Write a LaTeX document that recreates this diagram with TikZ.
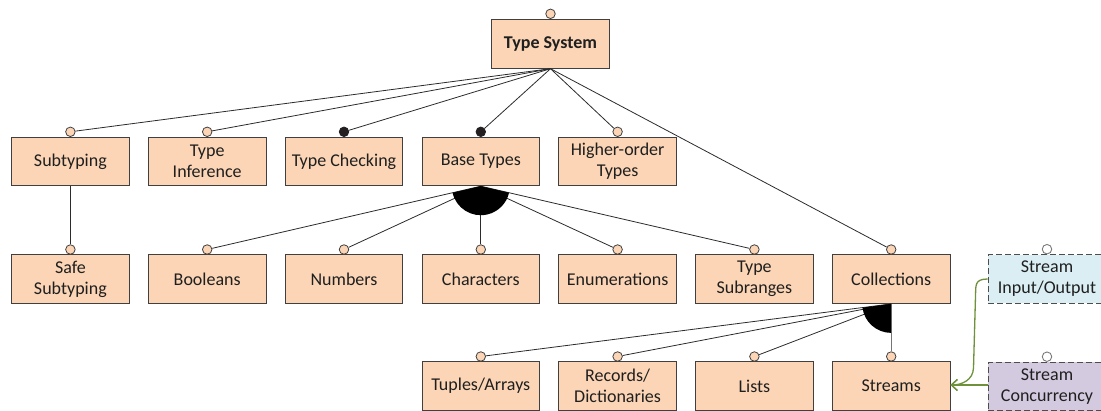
\documentclass[tikz,border=0pt]{standalone}
\usepackage{fontspec}
\setmainfont{Carlito}
\usetikzlibrary{arrows.meta,calc}

\definecolor{feat}{HTML}{FBD5B5}
\definecolor{featline}{HTML}{404040}
\definecolor{ink}{HTML}{1F1F1F}
\definecolor{edge}{HTML}{2B2B2B}
\definecolor{iofill}{HTML}{DAEEF3}
\definecolor{concfill}{HTML}{D3CAE0}
\definecolor{dashline}{HTML}{4D4D4D}
\definecolor{reqgreen}{HTML}{6F913C}
\definecolor{solid}{HTML}{231F20}

\tikzset{
  feature/.style={draw=featline, fill=feat, line width=0.9pt,
    minimum width=117.5pt, minimum height=48.5pt, inner sep=0pt,
    align=center, text=ink, font=\fontsize{18}{21}\selectfont},
  extfeature/.style={feature, draw=dashline, line width=1.1pt,
    dash pattern=on 6pt off 3pt},
  optional/.style={circle, draw=featline, fill=feat, line width=0.8pt,
    minimum size=9.5pt, inner sep=0pt},
  mandatory/.style={circle, draw=solid, fill=solid, line width=0.8pt,
    minimum size=9.5pt, inner sep=0pt},
  extmark/.style={circle, draw=dashline!75, fill=white, line width=0.9pt,
    minimum size=9.5pt, inner sep=0pt},
  link/.style={draw=edge, line width=0.8pt},
  requires/.style={draw=reqgreen, line width=1.3pt,
    -{Straight Barb[length=6pt,width=11pt]}},
}

\begin{document}
\begin{tikzpicture}[x=1pt,y=1pt]
\useasboundingbox (0,0) rectangle (1101,-411);

% root
\node[feature, font=\fontsize{18}{21}\selectfont\bfseries] (ts) at (550.5,-44) {Type System};
\node[optional] (c-ts) at ($(ts.north)+(0,5.5)$) {};

% first level
\node[feature] (sub)  at (70.4,-161.5)  {Subtyping};
\node[feature] (inf)  at (207.2,-161.5) {Type\\Inference};
\node[feature] (chk)  at (344,-161.5)   {Type Checking};
\node[feature] (base) at (480.8,-161.5) {Base Types};
\node[feature] (hot)  at (617.6,-161.5) {Higher-order\\Types};

% second level
\node[feature] (safe) at (70.4,-279.2)  {Safe\\Subtyping};
\node[feature] (bool) at (207.2,-279.2) {Booleans};
\node[feature] (num)  at (344,-279.2)   {Numbers};
\node[feature] (chr)  at (480.8,-279.2) {Characters};
\node[feature] (enm)  at (617.6,-279.2) {Enumerations};
\node[feature] (rng)  at (754.4,-279.2) {Type\\Subranges};
\node[feature] (col)  at (891.2,-279.2) {Collections};

% third level
\node[feature] (tup) at (480.8,-386.2) {Tuples/Arrays};
\node[feature] (rec) at (617.6,-386.2) {Records/\\Dictionaries};
\node[feature] (lst) at (754.4,-386.2) {Lists};
\node[feature] (str) at (891.2,-386.2) {Streams};

% external features
\node[extfeature, fill=iofill]   (sio)  at (1047,-279)   {Stream\\Input/Output};
\node[extfeature, fill=concfill] (scon) at (1047,-386.5) {Stream\\Concurrency};
\node[extmark] (c-sio)  at ($(sio.north)+(0,5)$)  {};
\node[extmark] (c-scon) at ($(scon.north)+(0,5)$) {};

% variability markers
\node[optional]  (c-sub)  at ($(sub.north)+(0,5)$)  {};
\node[optional]  (c-inf)  at ($(inf.north)+(0,5)$)  {};
\node[mandatory] (c-chk)  at ($(chk.north)+(0,5)$)  {};
\node[mandatory] (c-base) at ($(base.north)+(0,5)$) {};
\node[optional]  (c-hot)  at ($(hot.north)+(0,5)$)  {};
\node[optional]  (c-safe) at ($(safe.north)+(0,5)$) {};
\node[optional]  (c-bool) at ($(bool.north)+(0,5)$) {};
\node[optional]  (c-num)  at ($(num.north)+(0,5)$)  {};
\node[optional]  (c-chr)  at ($(chr.north)+(0,5)$)  {};
\node[optional]  (c-enm)  at ($(enm.north)+(0,5)$)  {};
\node[optional]  (c-rng)  at ($(rng.north)+(0,5)$)  {};
\node[optional]  (c-col)  at ($(col.north)+(0,5)$)  {};
\node[optional]  (c-tup)  at ($(tup.north)+(0,5)$)  {};
\node[optional]  (c-rec)  at ($(rec.north)+(0,5)$)  {};
\node[optional]  (c-lst)  at ($(lst.north)+(0,5)$)  {};
\node[optional]  (c-str)  at ($(str.north)+(0,5)$)  {};

% tree edges
\foreach \c in {c-sub,c-inf,c-chk,c-base,c-hot,c-col}
  \draw[link] (ts.south) -- (\c);
\draw[link] (sub.south) -- (c-safe);
\foreach \c in {c-bool,c-num,c-chr,c-enm,c-rng}
  \draw[link] (base.south) -- (\c);
\foreach \c in {c-tup,c-rec,c-lst}
  \draw[link] (col.south) -- (\c);
\draw[link, draw=edge!65] (col.south) -- (c-str);

% or-group arcs, drawn over the edges they join
\fill[solid] (base.south) -- +(193:29) arc[start angle=193, end angle=347, radius=29pt] -- cycle;
\fill[solid] (col.south) -- +(187.4:29) arc[start angle=187.4, end angle=270, radius=29pt] -- cycle;

% requires relations
\coordinate (str-in) at ($(str.east)+(0,1.2)$);
\draw[requires] (sio.west) .. controls (974,-279) and (976,-286) .. (975.5,-296)
  -- (973.5,-368) .. controls (973,-380) and (962,-385) .. (str-in);
\draw[requires] (scon.west |- str-in) -- (str-in);
\end{tikzpicture}
\end{document}
